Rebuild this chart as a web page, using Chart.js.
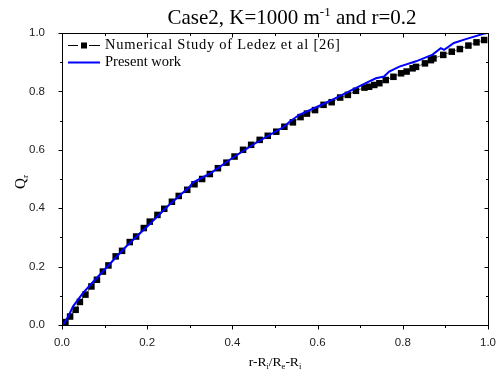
<!DOCTYPE html>
<html>
<head>
<meta charset="utf-8">
<script src="https://cdn.jsdelivr.net/npm/chart.js@4.4.1/dist/chart.umd.min.js"></script>
<style>
  html,body{margin:0;padding:0;background:#fff;}
  #wrap{width:498px;height:371px;position:relative;}
</style>
</head>
<body>
<div id="wrap"><canvas id="c" width="498" height="371"></canvas></div>
<script>
// Ledez et al. numerical study (black squares)
const xLedez = [0.008,0.019,0.032,0.042,0.055,0.069,0.082,0.096,0.109,0.126,0.141,0.159,0.174,0.192,
  0.206,0.224,0.240,0.258,0.274,0.294,0.311,0.329,0.347,0.366,0.386,0.405,0.425,0.444,0.464,0.483,
  0.503,0.522,0.542,0.560,0.575,0.594,0.614,0.633,0.653,0.671,0.690,0.710,0.721,0.733,0.745,0.760,
  0.778,0.796,0.809,0.823,0.831,0.852,0.866,0.872,0.895,0.915,0.934,0.954,0.973,0.991];
const yLedez = [0.010,0.029,0.052,0.079,0.104,0.132,0.155,0.183,0.204,0.235,0.254,0.284,0.303,0.332,
  0.354,0.377,0.398,0.422,0.442,0.463,0.482,0.500,0.517,0.537,0.556,0.577,0.600,0.617,0.634,0.648,
  0.662,0.679,0.694,0.712,0.724,0.736,0.754,0.763,0.779,0.788,0.802,0.813,0.816,0.822,0.828,0.839,
  0.850,0.862,0.868,0.879,0.884,0.896,0.907,0.913,0.925,0.936,0.945,0.957,0.968,0.976];

// present work (blue line)
const xPresent = [0.002,0.015,0.026,0.049,0.070,0.100,0.150,0.200,0.250,0.300,0.307,0.350,0.400,0.450,
  0.500,0.520,0.535,0.557,0.585,0.612,0.635,0.674,0.714,0.737,0.756,0.768,0.792,0.831,0.870,0.889,
  0.897,0.920,0.948,0.991,1.000];
const yPresent = [0.000,0.030,0.064,0.109,0.143,0.190,0.268,0.337,0.409,0.474,0.488,0.521,0.572,0.619,
  0.661,0.678,0.697,0.720,0.738,0.756,0.772,0.800,0.829,0.845,0.851,0.868,0.885,0.903,0.926,0.948,
  0.942,0.966,0.979,0.998,1.000];

const seriesNames = ["Numerical Study of Ledez et al [26]", "Present work"];
const xMajor = [0,0.2,0.4,0.6,0.8,1.0];
const xMinor = [0.1,0.3,0.5,0.7,0.9];
const yMajor = [0,0.2,0.4,0.6,0.8,1.0];
const yMinor = [0.1,0.3,0.5,0.7,0.9];

const SERIF = "'Liberation Serif','Times New Roman',serif";
const SANS = "'Liberation Sans',Arial,sans-serif";

const pts = (xs,ys)=>xs.map((x,i)=>({x, y:ys[i]}));

// draws text pieces [text, size, dy] one after another
function drawRuns(ctx, runs, x, y) {
  let cx = x;
  runs.forEach(([t,size,dy])=>{
    ctx.font = size+"px "+SERIF;
    ctx.fillText(t, cx, y+dy);
    cx += ctx.measureText(t).width;
  });
}
function runsWidth(ctx, runs) {
  return runs.reduce((s,[t,size])=>{ ctx.font = size+"px "+SERIF; return s+ctx.measureText(t).width; },0);
}

const decor = {
  id: "decor",
  afterDraw(chart) {
    const {ctx, chartArea:a, scales:{x,y}} = chart;
    ctx.save();
    ctx.strokeStyle = "#000"; ctx.lineWidth = 1;
    ctx.strokeRect(Math.round(a.left)+0.5, Math.round(a.top)+0.5, Math.round(a.right-a.left), Math.round(a.bottom-a.top));

    // ticks: bottom/left outward, top/right inward (same direction)
    const tick = (x1,y1,x2,y2)=>{ ctx.beginPath(); ctx.moveTo(x1,y1); ctx.lineTo(x2,y2); ctx.stroke(); };
    const bot = Math.round(a.bottom)+0.5, top = Math.round(a.top)+0.5;
    const lft = Math.round(a.left)+0.5, rgt = Math.round(a.right)+0.5;
    xMajor.concat(xMinor).forEach(v=>{
      const len = xMajor.includes(v) ? 4 : 2.5;
      const px = Math.round(x.getPixelForValue(v))+0.5;
      tick(px, bot, px, bot+len);
      tick(px, top, px, top+len);
    });
    yMajor.concat(yMinor).forEach(v=>{
      const len = yMajor.includes(v) ? 4 : 2.5;
      const py = Math.round(y.getPixelForValue(v))+0.5;
      tick(lft, py, lft-len, py);
      tick(rgt, py, rgt-len, py);
    });

    ctx.fillStyle = "#000";
    ctx.textBaseline = "alphabetic";
    ctx.textAlign = "left";

    // title with superscript
    const title = [["Case2, K=1000 m",21,0],["-1",13,-8],[" and r=0.2",21,0]];
    const tw = runsWidth(ctx, title);
    drawRuns(ctx, title, 292 - tw/2, 24);

    // x axis title
    const xt = [["r-R",13.5,0],["i",8.5,3],["/R",13.5,0],["e",8.5,3],["-R",13.5,0],["i",8.5,3]];
    const xw = runsWidth(ctx, xt);
    drawRuns(ctx, xt, 275 - xw/2, 366);

    // y axis title
    ctx.save();
    ctx.translate(25, (a.top+a.bottom)/2 + 3);
    ctx.rotate(-Math.PI/2);
    const yt = [["Q",15,0],["r",9,3]];
    drawRuns(ctx, yt, -runsWidth(ctx,yt)/2, 0);
    ctx.restore();

    // legend
    const lx = a.left+6;
    const r1 = a.top+12.5, r2 = a.top+29.5;
    ctx.strokeStyle = "#000"; ctx.lineWidth = 1;
    tick(lx, r1, lx+10, r1);
    tick(lx+21, r1, lx+32, r1);
    ctx.fillRect(lx+13, r1-3, 6, 6);
    ctx.strokeStyle = "#0000ff"; ctx.lineWidth = 2;
    tick(lx, r2, lx+32, r2);
    ctx.font = "14.5px "+SERIF;
    ctx.textBaseline = "middle";
    ctx.letterSpacing = "0.75px";
    ctx.fillText(chart.data.datasets[0].label, lx+37, r1);
    ctx.letterSpacing = "0px";
    ctx.fillText(chart.data.datasets[1].label, lx+37, r2);
    ctx.restore();
  }
};

new Chart(document.getElementById("c"), {
  type: "scatter",
  data: {
    datasets: [
      {
        label: seriesNames[0],
        data: pts(xLedez, yLedez),
        showLine: true,
        borderColor: "#000", borderWidth: 0.6,
        pointStyle: "rect", pointRadius: 4.6,
        pointBackgroundColor: "#000", pointBorderWidth: 0,
        order: 2
      },
      {
        label: seriesNames[1],
        data: pts(xPresent, yPresent),
        showLine: true,
        borderColor: "#0000ff", borderWidth: 2,
        pointRadius: 0,
        order: 1
      }
    ]
  },
  options: {
    responsive: false, animation: false,
    layout: { padding: { top: 33, right: 10, left: 0, bottom: 0 } },
    plugins: { legend: { display: false }, tooltip: { enabled: false } },
    scales: {
      x: {
        type: "linear", min: 0, max: 1,
        grid: { display: false }, border: { display: false },
        afterFit: s => { s.height = 46; s.paddingLeft = 0; s.paddingRight = 0; },
        ticks: { stepSize: 0.2, padding: 3, color: "#222", font: { family: SANS, size: 11.5 },
                 callback: v => v.toFixed(1), maxRotation: 0 }
      },
      y: {
        type: "linear", min: 0, max: 1,
        grid: { display: false }, border: { display: false },
        afterFit: s => { s.width = 62; s.paddingTop = 0; s.paddingBottom = 0; },
        ticks: { stepSize: 0.2, padding: 9, color: "#222", font: { family: SANS, size: 11.5 },
                 callback: v => v.toFixed(1) }
      }
    }
  },
  plugins: [decor]
});
</script>
</body>
</html>
